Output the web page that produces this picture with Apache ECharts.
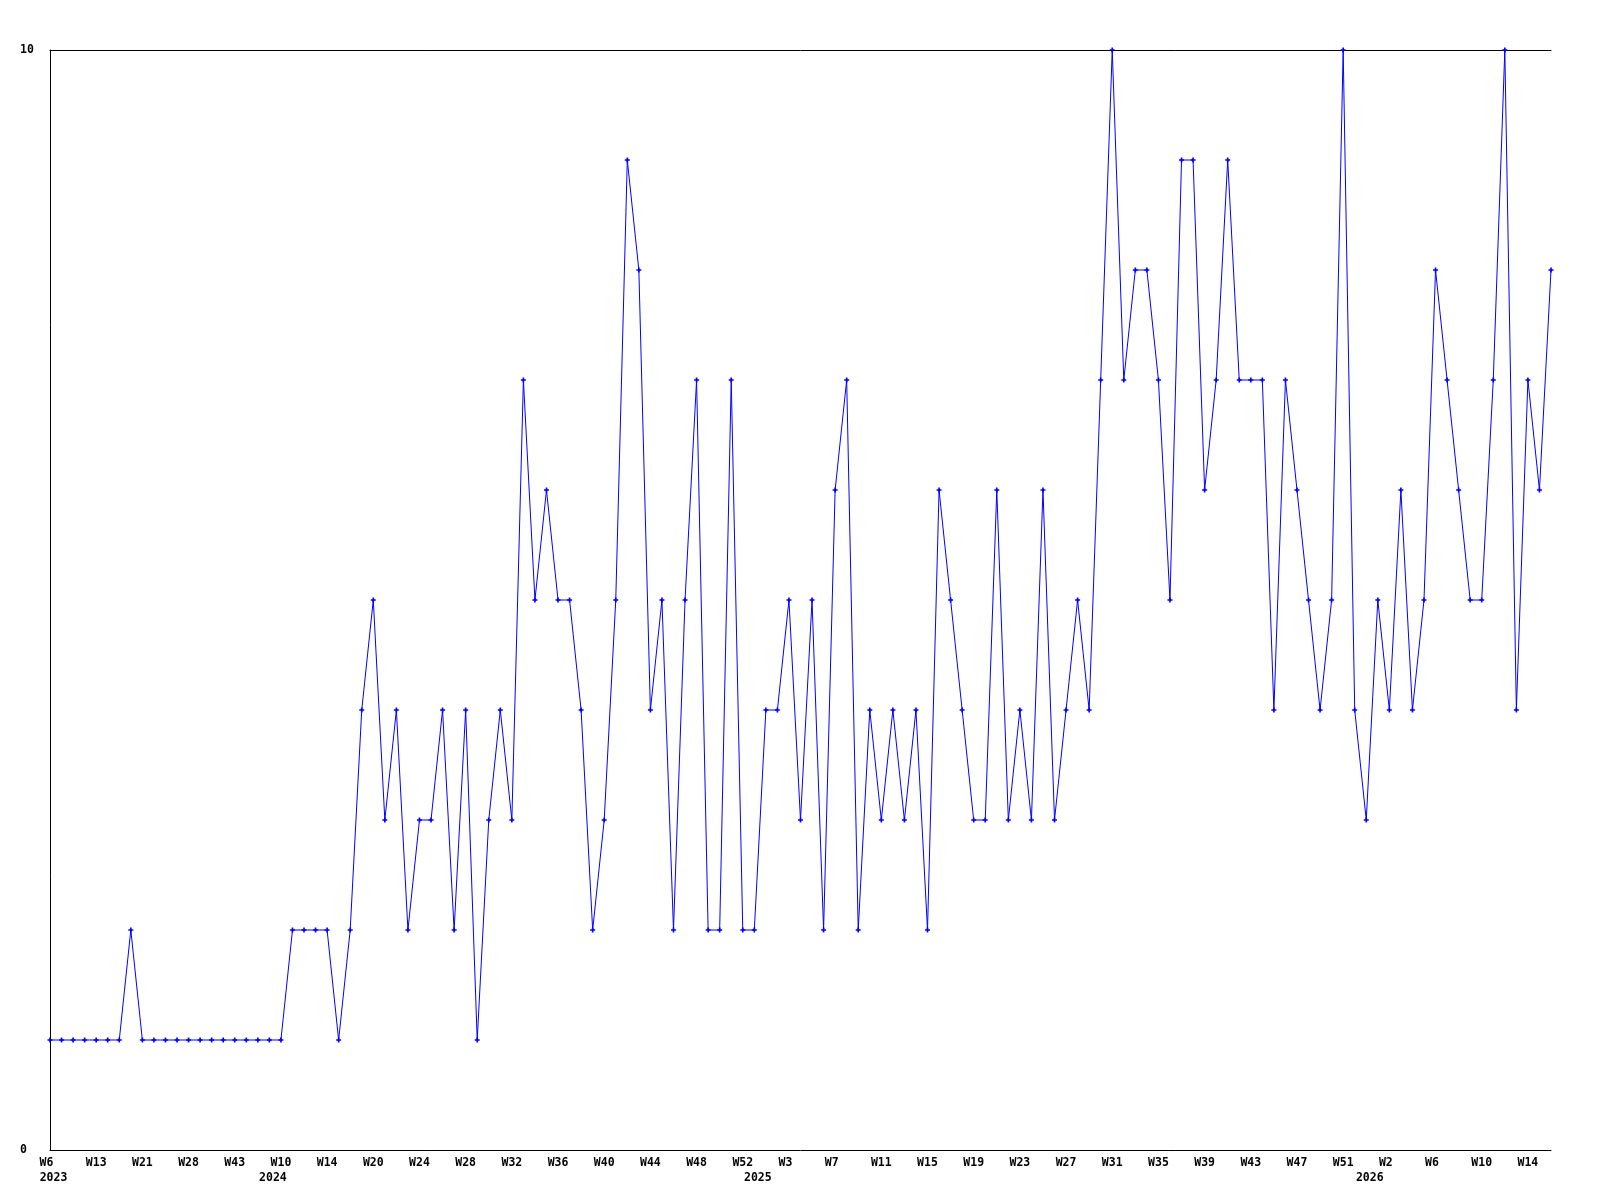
<!DOCTYPE html>
<html>
<head>
<meta charset="utf-8">
<script src="https://cdn.jsdelivr.net/npm/echarts@6/dist/echarts.min.js"></script>
<style>
html,body{margin:0;padding:0;background:#fff;}
#chart{width:1600px;height:1200px;}
</style>
</head>
<body>
<div id="chart"></div>
<script>
// Week buckets per year (as shown on the x axis)
const weeks2023 = ['W6','W8','W10','W11','W13','W15','W17','W19','W21','W23','W24','W26','W28','W32','W36','W40','W43','W47','W50'];
const weeks2024 = ['W8','W10','W11','W12','W13','W14','W16','W17','W19','W20','W21','W22','W23','W24',
  'W25','W26','W27','W28','W29','W30','W31','W32','W33','W34','W35','W36','W37','W38','W39','W40',
  'W41','W42','W43','W44','W45','W46','W47','W48','W49','W50','W51','W52'];
const weeks2025 = ['W0','W1','W2','W3','W4','W5','W6','W7','W8','W9','W10','W11','W12','W13','W14','W15',
  'W16','W17','W18','W19','W20','W21','W22','W23','W24','W25','W26','W27','W28','W29','W30','W31',
  'W32','W33','W34','W35','W36','W37','W38','W39','W40','W41','W42','W43','W44','W45','W46','W47',
  'W48','W49','W50','W51','W52'];
const weeks2026 = ['W0','W1','W2','W3','W4','W5','W6','W7','W8','W9','W10','W11','W12','W13','W14','W15','W16'];

// Weekly counts
const values = [
  1,1,1,1,1,1,1,2,1,1,1,1,1,1,1,1,1,1,1,1,
  1,2,2,2,2,1,2,4,5,3,4,2,3,3,4,2,4,1,3,4,
  3,7,5,6,5,5,4,2,3,5,9,8,4,5,2,5,7,2,2,7,
  2,2,4,4,5,3,5,2,6,7,2,4,3,4,3,4,2,6,5,4,
  3,3,6,3,4,3,6,3,4,5,4,7,10,7,8,8,7,5,9,9,
  6,7,9,7,7,7,4,7,6,5,4,5,10,4,3,5,4,6,4,5,
  8,7,6,5,5,7,10,4,7,6,8
];

const yTicks = [0, 10];

const yearsList = [
  ['2023', weeks2023], ['2024', weeks2024], ['2025', weeks2025], ['2026', weeks2026]
];
const categories = [];
const yearStart = {};
yearsList.forEach(([y, ws]) => {
  yearStart[categories.length] = y;
  ws.forEach(w => categories.push(y + '|' + w));
});

const font = {fontFamily: 'DejaVu Sans Mono', fontWeight: 'bold', fontSize: 11.5, color: '#000'};
const richBase = Object.assign({lineHeight: 15}, font);

const chart = echarts.init(document.getElementById('chart'), null, {renderer: 'canvas'});
chart.setOption({
  backgroundColor: '#fff',
  animation: false,
  grid: {left: 50, right: 49, top: 50, bottom: 50, containLabel: false},
  xAxis: [{
    type: 'category',
    data: categories,
    boundaryGap: false,
    position: 'bottom',
    axisLine: {show: true, lineStyle: {color: '#000', width: 1}},
    axisTick: {show: false},
    splitLine: {show: false},
    axisLabel: Object.assign({
      margin: 6,
      lineHeight: 15,
      interval: (i) => i % 4 === 0 || yearStart[i] !== undefined,
      formatter: (val, i) => {
        const w = i % 4 === 0 ? val.split('|')[1] : '';
        const y = yearStart[i] !== undefined ? yearStart[i] : '';
        const wTxt = w ? (w.length < 3 ? '{w2|' + w + '}' : '{w|' + w + '}') : '';
        return y ? (wTxt + '\n{y|' + y + '}') : wTxt;
      },
      rich: {
        w: Object.assign({}, richBase),
        w2: Object.assign({padding: [0, 7, 0, 0]}, richBase),
        y: Object.assign({padding: [0, 0, 0, 7]}, richBase)
      }
    }, font)
  }, {
    type: 'category',
    data: categories,
    boundaryGap: false,
    position: 'top',
    axisLine: {show: true, lineStyle: {color: '#000', width: 1}},
    axisTick: {show: false},
    axisLabel: {show: false},
    splitLine: {show: false}
  }],
  yAxis: {
    type: 'value',
    min: yTicks[0],
    max: yTicks[1],
    interval: 10,
    axisLine: {show: true, lineStyle: {color: '#000', width: 1}},
    axisTick: {show: false},
    splitLine: {show: false},
    axisLabel: Object.assign({align: 'left', margin: 30}, font)
  },
  series: [{
    type: 'line',
    data: values,
    xAxisIndex: 0,
    symbol: 'path://M2,0H4V2H6V4H4V6H2V4H0V2H2Z',
    symbolSize: 5,
    showSymbol: true,
    showAllSymbol: true,
    lineStyle: {color: '#0000ff', width: 1},
    itemStyle: {color: '#0000ff', borderWidth: 0}
  }]
});
</script>
</body>
</html>
